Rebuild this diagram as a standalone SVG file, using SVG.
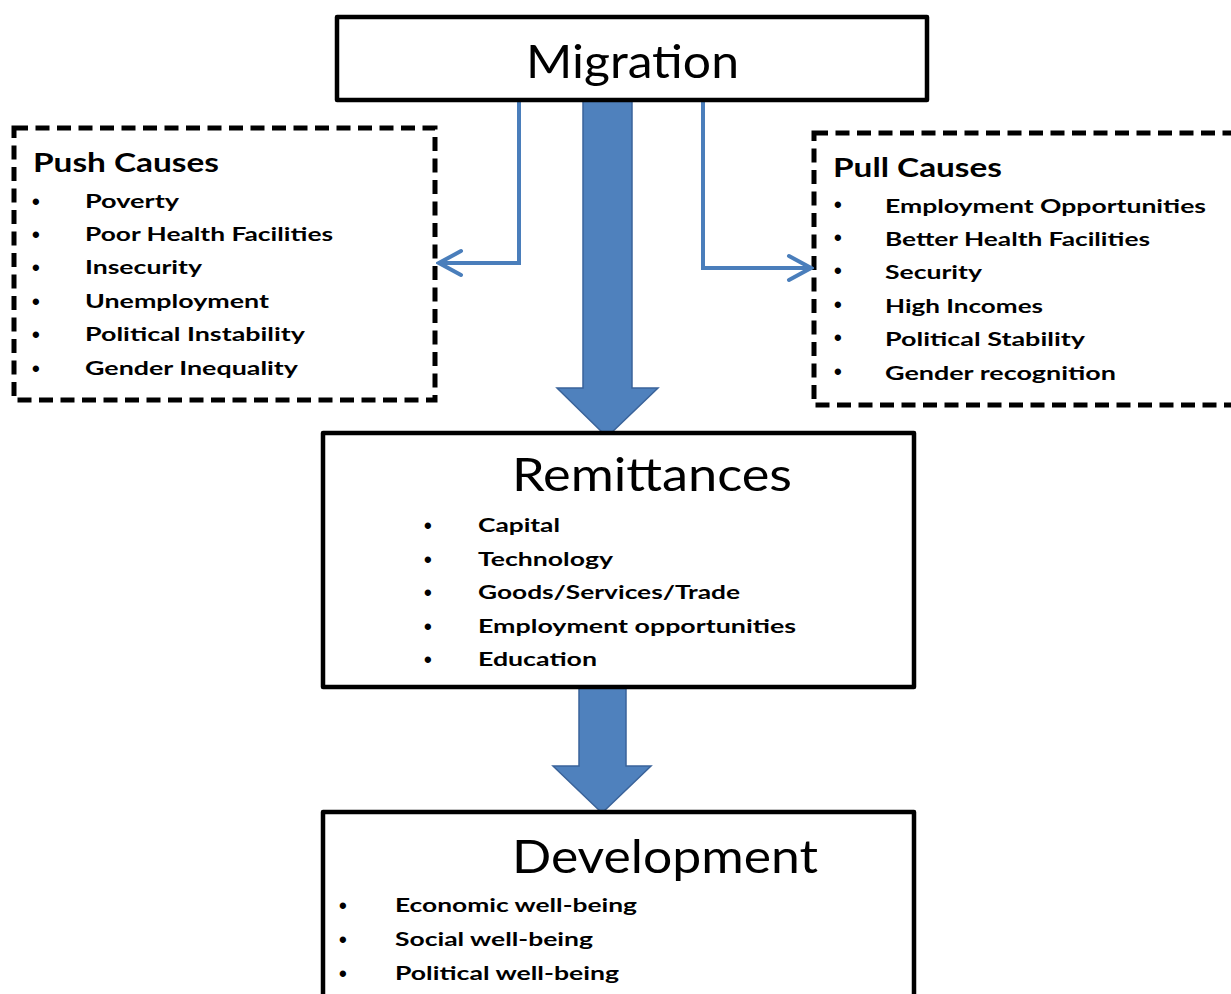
<svg xmlns="http://www.w3.org/2000/svg" width="1231" height="994" viewBox="0 0 1231 994">
  <style>
    .box { fill: #ffffff; stroke: #000000; stroke-width: 4.5; stroke-linejoin: round; }
    .dash { fill: #ffffff; stroke: #000000; stroke-width: 5; stroke-dasharray: 14 7.5; }
    .title { font-family: Lato, "Liberation Sans", sans-serif; font-weight: 400; fill: #000000; }
    .head { font-family: Lato, "Liberation Sans", sans-serif; font-weight: 700; font-size: 27px; fill: #000000; }
    .item { font-family: Lato, "Liberation Sans", sans-serif; font-weight: 700; font-size: 19px; fill: #000000; }
    .bul { font-family: "Liberation Sans", sans-serif; font-weight: 700; font-size: 22px; fill: #000000; }
    .block { fill: #4f81bd; stroke: #3a639a; stroke-width: 1.5; stroke-linejoin: miter; }
    .link { fill: none; stroke: #4a7ebb; stroke-width: 4; }
  </style>
  <defs>
    <marker id="chev" viewBox="0 0 28 30" refX="25" refY="15" markerWidth="28" markerHeight="30" orient="auto" markerUnits="userSpaceOnUse">
      <path d="M3,3 L25,15 L3,27" fill="none" stroke="#4a7ebb" stroke-width="4" stroke-linecap="round" stroke-linejoin="miter"/>
    </marker>
  </defs>

  <rect width="1231" height="994" fill="#ffffff"/>

  <!-- push / pull side boxes -->
  <g id="node-push">
    <rect class="dash" x="14" y="128" width="421" height="272"/>
    <text class="head" x="33" y="172" textLength="186" lengthAdjust="spacingAndGlyphs">Push  Causes</text>
    <text class="bul" x="32" y="209">•</text>
    <text class="item" x="85" y="208" textLength="94" lengthAdjust="spacingAndGlyphs">Poverty</text>
    <text class="bul" x="32" y="242">•</text>
    <text class="item" x="85" y="241" textLength="248" lengthAdjust="spacingAndGlyphs">Poor Health Facilities</text>
    <text class="bul" x="32" y="275">•</text>
    <text class="item" x="85" y="274" textLength="117" lengthAdjust="spacingAndGlyphs">Insecurity</text>
    <text class="bul" x="32" y="309">•</text>
    <text class="item" x="85" y="308" textLength="184" lengthAdjust="spacingAndGlyphs">Unemployment</text>
    <text class="bul" x="32" y="342">•</text>
    <text class="item" x="85" y="341" textLength="220" lengthAdjust="spacingAndGlyphs">Political Instability</text>
    <text class="bul" x="32" y="376">•</text>
    <text class="item" x="85" y="375" textLength="213" lengthAdjust="spacingAndGlyphs">Gender Inequality</text>
  </g>

  <g id="node-pull">
    <rect class="dash" x="814" y="133" width="420" height="272"/>
    <text class="head" x="833" y="177" textLength="169" lengthAdjust="spacingAndGlyphs">Pull Causes</text>
    <text class="bul" x="834" y="212" font-size="16">•</text>
    <text class="item" x="885" y="213" textLength="321" lengthAdjust="spacingAndGlyphs">Employment Opportunities</text>
    <text class="bul" x="834" y="245" font-size="16">•</text>
    <text class="item" x="885" y="246" textLength="265" lengthAdjust="spacingAndGlyphs">Better Health Facilities</text>
    <text class="bul" x="834" y="278" font-size="16">•</text>
    <text class="item" x="885" y="279" textLength="97" lengthAdjust="spacingAndGlyphs">Security</text>
    <text class="bul" x="834" y="312" font-size="16">•</text>
    <text class="item" x="885" y="313" textLength="158" lengthAdjust="spacingAndGlyphs">High Incomes</text>
    <text class="bul" x="834" y="345" font-size="16">•</text>
    <text class="item" x="885" y="346" textLength="200" lengthAdjust="spacingAndGlyphs">Political Stability</text>
    <text class="bul" x="834" y="379" font-size="16">•</text>
    <text class="item" x="885" y="380" textLength="231" lengthAdjust="spacingAndGlyphs">Gender recognition</text>
  </g>

  <!-- flow arrows and side connectors -->
  <g id="connectors">
    <path class="link" d="M519,101 V263 H439" marker-end="url(#chev)"/>
    <path class="link" d="M703,101 V268 H811" marker-end="url(#chev)"/>
    <path class="block" d="M583,99 H632 V388 H658 L607,437 L557,388 H583 Z"/>
    <path class="block" d="M579,687 H626 V766 H651 L602,813 L553,766 H579 Z"/>
  </g>

  <g id="node-migration">
    <rect class="box" x="337" y="17" width="590" height="83"/>
    <text class="title" x="526" y="78" font-size="47" textLength="213" lengthAdjust="spacingAndGlyphs">Migration</text>
  </g>

  <g id="node-remittances">
    <rect class="box" x="323" y="433" width="591" height="254"/>
    <text class="title" x="512" y="491" font-size="46" textLength="280" lengthAdjust="spacingAndGlyphs">Remittances</text>
    <text class="bul" x="424" y="533">•</text>
    <text class="item" x="478" y="532" textLength="82" lengthAdjust="spacingAndGlyphs">Capital</text>
    <text class="bul" x="424" y="567">•</text>
    <text class="item" x="478" y="566" textLength="135" lengthAdjust="spacingAndGlyphs">Technology</text>
    <text class="bul" x="424" y="600">•</text>
    <text class="item" x="478" y="599" textLength="262" lengthAdjust="spacingAndGlyphs">Goods/Services/Trade</text>
    <text class="bul" x="424" y="634">•</text>
    <text class="item" x="478" y="633" textLength="318" lengthAdjust="spacingAndGlyphs">Employment opportunities</text>
    <text class="bul" x="424" y="667">•</text>
    <text class="item" x="478" y="666" textLength="119" lengthAdjust="spacingAndGlyphs">Education</text>
  </g>

  <g id="node-development">
    <rect class="box" x="323" y="812" width="591" height="200"/>
    <text class="title" x="512" y="873" font-size="46" textLength="306" lengthAdjust="spacingAndGlyphs">Development</text>
    <text class="bul" x="339" y="913">•</text>
    <text class="item" x="395" y="912" textLength="242" lengthAdjust="spacingAndGlyphs">Economic well-being</text>
    <text class="bul" x="339" y="947">•</text>
    <text class="item" x="395" y="946" textLength="198" lengthAdjust="spacingAndGlyphs">Social well-being</text>
    <text class="bul" x="339" y="981">•</text>
    <text class="item" x="395" y="980" textLength="224" lengthAdjust="spacingAndGlyphs">Political well-being</text>
  </g>
</svg>
